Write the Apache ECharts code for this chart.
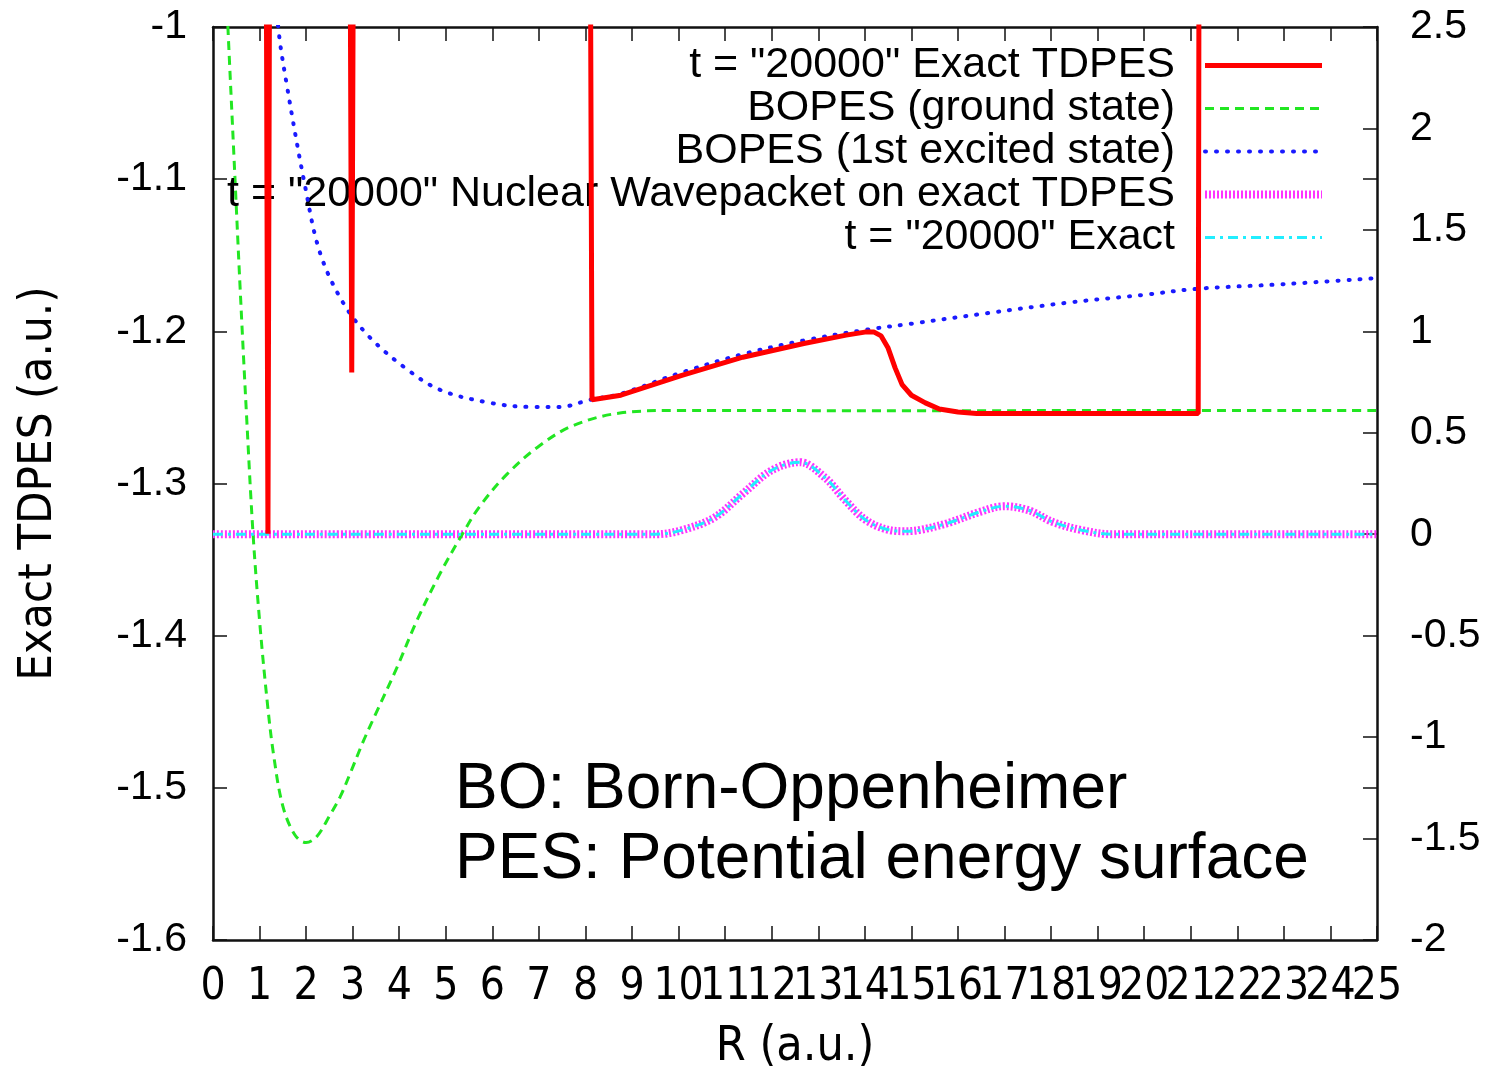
<!DOCTYPE html>
<html>
<head>
<meta charset="utf-8">
<script src="https://cdn.jsdelivr.net/npm/echarts@6/dist/echarts.min.js"></script>
<style>
  html, body { margin: 0; padding: 0; background: #fff; }
  #main { width: 1491px; height: 1070px; }
</style>
</head>
<body>
<div id="main"></div>
<script>
// legend names
var seriesNames = [
    't = "20000" Exact TDPES',
    'BOPES (ground state)',
    'BOPES (1st excited state)',
    't = "20000" Nuclear Wavepacket on exact TDPES',
    't = "20000" Exact'
];

// exact TDPES (left axis), values above -1 are off the chart
var tdpesR = [1.14, 1.18, 1.22, 2.94, 2.98, 3.02, 8.10, 8.14, 8.76, 10.07, 11.38, 12.69, 13.6, 14.0, 14.2, 14.35, 14.5, 14.65, 14.8, 15.0, 15.3, 15.6, 16.0, 16.4, 18.0, 21.16, 21.18];
var tdpesE = [-0.9, -1.333, -0.9, -0.9, -1.227, -0.9, -0.9, -1.245, -1.242, -1.229, -1.217, -1.208, -1.2025, -1.2005, -1.2005, -1.203, -1.211, -1.224, -1.235, -1.242, -1.247, -1.251, -1.253, -1.254, -1.254, -1.254, -0.9];

// BO ground state
var groundR = [0.25, 0.32, 0.45, 0.58, 0.72, 0.86, 1.0, 1.16, 1.3, 1.5, 1.76, 2.0, 2.23, 2.51, 2.73, 2.94, 3.22, 3.44, 3.95, 4.38, 4.88, 5.37, 5.73, 6.31, 7.02, 7.73, 8.74, 10, 15, 20, 25];
var groundE = [-0.95, -1.0, -1.085, -1.17, -1.255, -1.333, -1.39, -1.442, -1.478, -1.512, -1.531, -1.536, -1.532, -1.518, -1.506, -1.491, -1.470, -1.455, -1.421, -1.390, -1.359, -1.3325, -1.315, -1.294, -1.275, -1.262, -1.2537, -1.252, -1.2522, -1.252, -1.252];

// BO 1st excited state
var excitedR = [1.36, 1.40, 1.59, 1.98, 2.30, 2.79, 3.37, 4.17, 4.88, 5.95, 6.87, 7.45, 8.1, 8.76, 10.07, 11.38, 12.69, 14.02, 15.0, 16.64, 18.4, 20.0, 21.16, 23.0, 25.0];
var excitedE = [-0.97, -1.0, -1.039, -1.105, -1.1485, -1.181, -1.204, -1.225, -1.2385, -1.247, -1.2497, -1.2497, -1.245, -1.241, -1.227, -1.215, -1.206, -1.199, -1.195, -1.188, -1.181, -1.176, -1.172, -1.169, -1.165];

// nuclear density (right axis)
var packetR = [0, 9.5, 10.07, 10.78, 11.38, 12.0, 12.6, 13.14, 13.57, 14.02, 14.54, 14.85, 15.16, 15.77, 16.47, 16.99, 17.52, 18.04, 18.66, 19.3, 25];
var packetPsi = [0, 0, 0.02, 0.084, 0.20, 0.315, 0.355, 0.28, 0.17, 0.07, 0.02, 0.015, 0.02, 0.054, 0.11, 0.138, 0.118, 0.06, 0.02, 0, 0];
var exactPsi = [0, 0, 0.02, 0.084, 0.20, 0.315, 0.355, 0.28, 0.17, 0.07, 0.02, 0.015, 0.02, 0.054, 0.11, 0.138, 0.118, 0.06, 0.02, 0, 0];

var colors = ['#ff0000', '#22e622', '#1a1aff', '#ff33ff', '#22eeff'];

function pairs(xs, ys) {
    var out = [];
    for (var i = 0; i < xs.length; i++) {
        out.push([xs[i], ys[i]]);
    }
    return out;
}

var myChart = echarts.init(document.getElementById('main'));
var narrow = '"Liberation Sans Narrow", "DejaVu Sans Condensed", "Liberation Sans", sans-serif';
var styles = [
    { color: colors[0], width: 5 },
    { color: colors[1], width: 3, type: [9, 6] },
    { color: colors[2], width: 4, type: [1, 10], cap: 'round' },
    { color: colors[3], width: 8, type: [2, 2] },
    { color: colors[4], width: 3, type: [10, 5, 3, 5] }
];

function frameAxis(extra) {
    var a = {
        axisLine: { show: true, onZero: false, lineStyle: { color: '#111', width: 2.5 } },
        axisTick: { inside: true, length: 14, lineStyle: { color: '#111', width: 1.5 } },
        splitLine: { show: false }
    };
    for (var k in extra) a[k] = extra[k];
    return a;
}

// x tick labels are split over two bottom axes (even / odd) so none get dropped as overlapping
function xLabels(parity) {
    return {
        margin: 26, fontSize: 44, fontFamily: narrow, color: '#000',
        showMinLabel: true, showMaxLabel: true, hideOverlap: false,
        formatter: function (v) {
            return Math.round(v) % 2 === parity ? String(Math.round(v)) : '';
        }
    };
}

var option = {
    animation: false,
    backgroundColor: '#fff',
    grid: { left: 213, right: 114, top: 27, bottom: 130, containLabel: false, outerBoundsMode: 'none' },
    legend: {
        orient: 'vertical',
        right: 160,
        top: 39,
        align: 'right',
        itemWidth: 117,
        itemHeight: 14,
        itemGap: 0,
        itemStyle: { color: 'transparent', opacity: 0, borderWidth: 0 },
        textStyle: {
            fontSize: 43,
            fontFamily: 'Liberation Sans',
            color: '#000',
            lineHeight: 43,
            padding: [0, 25, 0, 0]
        },
        data: seriesNames.map(function (n, i) {
            return { name: n, lineStyle: styles[i], itemStyle: { opacity: 0 } };
        })
    },
    xAxis: [
        frameAxis({
            type: 'value', position: 'bottom', min: 0, max: 25, interval: 1,
            name: 'R (a.u.)', nameLocation: 'middle', nameGap: 84,
            nameTextStyle: { fontSize: 48, fontFamily: narrow, color: '#000' },
            axisLabel: xLabels(0)
        }),
        frameAxis({
            type: 'value', position: 'top', min: 0, max: 25, interval: 1,
            axisLabel: { show: false }
        }),
        {
            type: 'value', position: 'bottom', min: 0, max: 25, interval: 1,
            axisLine: { show: false, onZero: false },
            axisTick: { show: false },
            splitLine: { show: false },
            axisLabel: xLabels(1)
        }
    ],
    yAxis: [
        frameAxis({
            type: 'value', position: 'left', min: -1.6, max: -1, interval: 0.1,
            name: 'Exact TDPES (a.u.)', nameLocation: 'middle', nameGap: 151,
            nameTextStyle: { fontSize: 47, fontFamily: narrow, color: '#000' },
            axisLabel: { margin: 26, fontSize: 41, fontFamily: 'Liberation Sans', color: '#000' }
        }),
        frameAxis({
            type: 'value', position: 'right', min: -2, max: 2.5, interval: 0.5,
            axisLabel: { margin: 33, fontSize: 41, fontFamily: 'Liberation Sans', color: '#000', align: 'left' }
        }),
        frameAxis({
            // mirrored left ticks on the right edge
            type: 'value', position: 'right', min: -1.6, max: -1, interval: 0.1,
            axisLine: { show: false, onZero: false },
            axisLabel: { show: false }
        })
    ],
    series: [
        {
            name: seriesNames[0], type: 'line', yAxisIndex: 0, symbol: 'none', clip: true, z: 5,
            data: pairs(tdpesR, tdpesE),
            lineStyle: styles[0],
            itemStyle: { color: colors[0] }
        },
        {
            name: seriesNames[1], type: 'line', yAxisIndex: 0, symbol: 'none', clip: true, z: 3,
            smooth: 0.35,
            data: pairs(groundR, groundE),
            lineStyle: styles[1],
            itemStyle: { color: colors[1] }
        },
        {
            name: seriesNames[2], type: 'line', yAxisIndex: 0, symbol: 'none', clip: true, z: 4,
            smooth: 0.35,
            data: pairs(excitedR, excitedE),
            lineStyle: styles[2],
            itemStyle: { color: colors[2] }
        },
        {
            name: seriesNames[3], type: 'line', yAxisIndex: 1, symbol: 'none', clip: true, z: 2,
            smooth: 0.35,
            data: pairs(packetR, packetPsi),
            lineStyle: styles[3],
            itemStyle: { color: colors[3] }
        },
        {
            name: seriesNames[4], type: 'line', yAxisIndex: 1, symbol: 'none', clip: true, z: 3,
            smooth: 0.35,
            data: pairs(packetR, exactPsi),
            lineStyle: styles[4],
            itemStyle: { color: colors[4] }
        }
    ],
    graphic: [
        {
            type: 'text', left: 455, top: 755, z: 10,
            style: {
                text: 'BO: Born-Oppenheimer\nPES: Potential energy surface',
                font: '64px "Liberation Sans"',
                lineHeight: 70,
                fill: '#000'
            }
        }
    ]
};

myChart.setOption(option);
window.addEventListener('resize', function () {
    myChart.resize();
});
</script>
</body>
</html>
